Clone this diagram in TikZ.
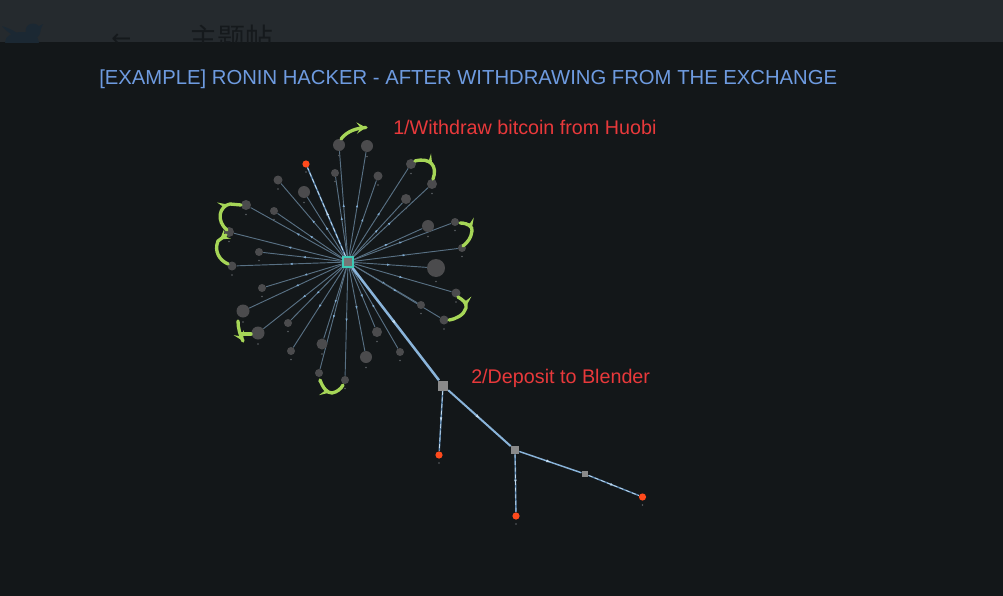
\documentclass[tikz,border=0pt]{standalone}
\usepackage{fontspec}
\setmainfont{Liberation Sans}
\newfontfamily\cjkfont{Noto Sans CJK SC}
\newfontfamily\djvfont{DejaVu Sans}
\usetikzlibrary{arrows.meta,decorations.markings,shapes.geometric}
\pgfdeclarelayer{bglayer}\pgfdeclarelayer{edgelayer}
\pgfsetlayers{bglayer,edgelayer,main}
\definecolor{bgc}{HTML}{131719}
\definecolor{stripc}{HTML}{252A2E}
\definecolor{striptext}{HTML}{15191C}
\definecolor{birdc}{HTML}{1B2833}
\definecolor{edgec}{HTML}{587083}
\definecolor{edgemark}{HTML}{7FAAD0}
\definecolor{thickc}{HTML}{8AB4DA}
\definecolor{dashbase}{HTML}{5C86AE}
\definecolor{dashtop}{HTML}{C3DDF2}
\definecolor{titlec}{HTML}{6E9BE0}
\definecolor{redtext}{HTML}{E8393B}
\definecolor{greenc}{HTML}{A6D657}
\definecolor{satc}{HTML}{4B4B4D}
\definecolor{dotc}{HTML}{5A5F63}
\definecolor{redn}{HTML}{FF4A1C}
\definecolor{sqc}{HTML}{8A8A8A}
\definecolor{cyanc}{HTML}{3ECAB6}
\tikzset{
  sat/.style={circle, fill=satc, inner sep=0pt},
  rednode/.style={circle, fill=redn, inner sep=0pt, minimum size=5.4pt},
  sqnode/.style={rectangle, fill=sqc, inner sep=0pt},
  edgeline/.style={draw=edgec, line width=0.7pt, postaction={decorate},
    decoration={markings, mark=at position 0.5 with {\arrow[color=edgemark]{Latex[length=2.4pt,width=1.8pt]}}}},
  thickline/.style={draw=thickc, line width=#1, postaction={decorate},
    decoration={markings, mark=at position 0.5 with {\arrow[color=dashtop]{Latex[length=3pt,width=2.4pt]}}}},
  dashline/.style={draw=dashbase, line width=1.1pt,
    postaction={draw=dashtop, line width=0.55pt, dash pattern=on 3pt off 2pt},
    postaction={decorate},
    decoration={markings, mark=at position 0.5 with {\arrow[color=dashtop]{Latex[length=2.6pt,width=2pt]}}}},
  garrow/.style={draw=greenc, line width=2.5pt, line cap=round, postaction={decorate},
    decoration={markings, mark=at position #1 with {\arrow[color=greenc]{Stealth[length=7pt,width=8.5pt,inset=3pt]}}}},
  titletext/.style={anchor=base west, inner sep=0pt, text=titlec, font=\fontsize{15.2pt}{18pt}\selectfont},
  redlabel/.style={anchor=base west, inner sep=0pt, text=redtext, font=\fontsize{14.8pt}{18pt}\selectfont},
}
\begin{document}
\begin{tikzpicture}[x=0.75pt,y=-0.75pt]
\begin{pgfonlayer}{bglayer}
\fill[bgc] (0,0) rectangle (1003,596);
\fill[stripc] (0,0) rectangle (1003,42);
\end{pgfonlayer}
\useasboundingbox (0,0) rectangle (1003,596);
% faded header, partly covered
\begin{scope}
\clip (0,0) rectangle (1003,42);
\fill[birdc] (2,26) .. controls (8,33) and (14,37) .. (22,37) .. controls (14,30) and (8,28) .. (2,26) -- cycle;
\fill[birdc] (22,42) ellipse (17 and 10);
\fill[birdc] (33,31) circle (7.5);
\fill[birdc] (37,27) -- (43,24) -- (40,31) -- cycle;
\node[anchor=base west, inner sep=0pt, text=striptext, font=\djvfont\fontsize{18pt}{20pt}\selectfont] (backarrow) at (111,46) {←};
\node[anchor=base west, inner sep=0pt, text=striptext, font=\cjkfont\fontsize{21pt}{24pt}\selectfont] (hdr) at (189,48) {主题帖};
\end{scope}

% title and labels
\node[titletext] (title) at (99,84) {[EXAMPLE] RONIN HACKER - AFTER WITHDRAWING FROM THE EXCHANGE};
\node[redlabel] (lab1) at (393,134) {1/Withdraw bitcoin from Huobi};
\node[redlabel] (lab2) at (471,383) {2/Deposit to Blender};

% center
\node[rectangle, fill=sqc!85!black, draw=cyanc, line width=1.4pt, minimum size=7.5pt, inner sep=0pt] (c) at (348,262) {};

% satellites
\foreach \i/\x/\y/\r in {1/339/145/6, 2/367/146/6, 3/335/173/4, 4/378/176/4.5,
  5/411/164/5, 6/432/184/5, 7/278/180/4.5, 8/304/192/6, 9/406/199/5,
  10/246/205/5, 11/274/211/4, 12/428/226/6, 13/455/222/4, 14/229/232/5,
  15/462/248/4, 16/259/252/4, 17/232/266/4.5, 18/436/268/9, 19/456/293/4.5,
  20/262/288/4, 21/421/305/4, 22/444/320/4.5, 23/243/311/6.5, 24/288/323/4,
  25/258/333/6.5, 26/377/332/5, 27/322/344/5.5, 28/291/351/4, 29/366/357/6,
  30/400/352/4, 31/319/373/4, 32/345/380/4} {
  \node[sat, minimum size={1.5*\r pt}] (s\i) at (\x,\y) {};
  \fill[dotc] (\x,{\y+\r+4.5}) circle (0.9);
  \begin{pgfonlayer}{edgelayer}
  \draw[edgeline] (c) -- (s\i);
  \end{pgfonlayer}
}

% red node top
\node[rednode] (r0) at (306,164) {};
\fill[dotc] (306,172) circle (0.9);

% deposit chain
\node[sqnode, minimum size=7.5pt] (b1) at (443,385.5) {};
\node[sqnode, minimum size=6pt] (b2) at (515,450) {};
\node[sqnode, minimum size=5pt] (b3) at (585,474) {};
\node[rednode] (r1) at (439,455) {};
\node[rednode] (r2) at (516,516) {};
\node[rednode] (r3) at (642.5,497) {};
\fill[dotc] (439,463) circle (0.9);
\fill[dotc] (516,524) circle (0.9);
\fill[dotc] (642.5,505) circle (0.9);

\begin{pgfonlayer}{edgelayer}
\draw[dashline] (c) -- (r0);
\draw[thickline=1.9pt] (c) -- (b1);
\draw[thickline=1.5pt] (b1) -- (b2);
\draw[thickline=1.1pt] (b2) -- (b3);
\draw[dashline] (b3) -- (r3);
\draw[dashline] (b1) -- (r1);
\draw[dashline] (b2) -- (r2);
\end{pgfonlayer}

% green hand-drawn arrows
\draw[garrow=1] (341,139) .. controls (347,131) and (357,128) .. (366,127.5);
\draw[garrow=0.55] (415,161) .. controls (430,157) and (438,166) .. (433,179);
\draw[garrow=0.7] (227,230) .. controls (216,221) and (219,206) .. (230,204) -- (241,205);
\draw[garrow=0.2] (226,235) -- (218,241) .. controls (214,251) and (219,260) .. (228,264);
\draw[garrow=0.4] (460,223) .. controls (468,223) and (473,227) .. (472,231) .. controls (471,238) and (468,242) .. (463,246);
\draw[garrow=0.35] (458,297) .. controls (463,300) and (467,303) .. (466,308) .. controls (464,315) and (456,319) .. (449,320);
\draw[garrow=1] (238,321) .. controls (238,328) and (240,335) .. (243,341);
\draw[draw=greenc, line width=2.5pt, line cap=round] (241,334) -- (251,334);
\draw[garrow=0.5] (320,380) .. controls (323,388) and (327,393) .. (332,393) .. controls (337,392) and (341,389) .. (343,385);
\end{tikzpicture}
\end{document}
